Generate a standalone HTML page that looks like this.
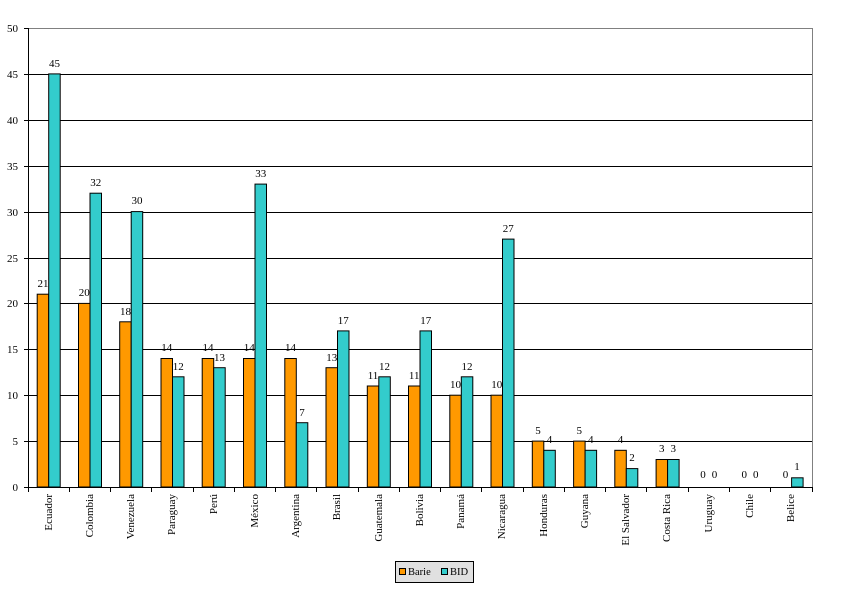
<!DOCTYPE html>
<html><head><meta charset="utf-8"><style>body{margin:0;background:#fff}svg{display:block}text{font-family:"Liberation Serif",serif;font-size:11px;fill:#000}</style></head><body>
<svg width="843" height="591" xmlns="http://www.w3.org/2000/svg">
<g stroke="#000" stroke-width="1">
<line x1="28" y1="28.5" x2="812" y2="28.5" stroke="#808080"/>
<line x1="812.5" y1="28" x2="812.5" y2="487" stroke="#808080"/>
<line x1="24" y1="74.5" x2="812" y2="74.5"/><line x1="24" y1="120.5" x2="812" y2="120.5"/>
<line x1="24" y1="166.5" x2="812" y2="166.5"/><line x1="24" y1="212.5" x2="812" y2="212.5"/>
<line x1="24" y1="258.5" x2="812" y2="258.5"/><line x1="24" y1="303.5" x2="812" y2="303.5"/>
<line x1="24" y1="349.5" x2="812" y2="349.5"/><line x1="24" y1="395.5" x2="812" y2="395.5"/>
<line x1="24" y1="441.5" x2="812" y2="441.5"/><line x1="24" y1="28.5" x2="28" y2="28.5"/>
<line x1="24" y1="487.5" x2="812" y2="487.5"/>
<line x1="28.5" y1="28" x2="28.5" y2="487"/>
</g>
<g stroke="#000">
<path d="M28.5 487v5M69.5 487v5M110.5 487v5M151.5 487v5M193.5 487v5M234.5 487v5M275.5 487v5M316.5 487v5M358.5 487v5M399.5 487v5M440.5 487v5M481.5 487v5M523.5 487v5M564.5 487v5M605.5 487v5M646.5 487v5M688.5 487v5M729.5 487v5M770.5 487v5M812.5 487v5"/>
</g>
<g text-anchor="end">
<text x="18" y="32">50</text><text x="18" y="78">45</text><text x="18" y="124">40</text><text x="18" y="170">35</text><text x="18" y="216">30</text><text x="18" y="262">25</text><text x="18" y="307">20</text><text x="18" y="353">15</text><text x="18" y="399">10</text><text x="18" y="445">5</text><text x="18" y="491">0</text>
</g>
<g stroke="#000" stroke-width="1">
<g fill="#ff9900">
<rect x="37.2" y="294.2" width="11.5" height="192.8"/>
<rect x="78.5" y="303.4" width="11.5" height="183.6"/>
<rect x="119.7" y="321.8" width="11.5" height="165.2"/>
<rect x="161" y="358.5" width="11.5" height="128.5"/>
<rect x="202.2" y="358.5" width="11.5" height="128.5"/>
<rect x="243.5" y="358.5" width="11.5" height="128.5"/>
<rect x="284.8" y="358.5" width="11.5" height="128.5"/>
<rect x="326" y="367.7" width="11.5" height="119.3"/>
<rect x="367.3" y="386" width="11.5" height="101"/>
<rect x="408.5" y="386" width="11.5" height="101"/>
<rect x="449.8" y="395.2" width="11.5" height="91.8"/>
<rect x="491" y="395.2" width="11.5" height="91.8"/>
<rect x="532.3" y="441.1" width="11.5" height="45.9"/>
<rect x="573.6" y="441.1" width="11.5" height="45.9"/>
<rect x="614.8" y="450.3" width="11.5" height="36.7"/>
<rect x="656.1" y="459.5" width="11.5" height="27.5"/>
</g>
<g fill="#33cccc">
<rect x="48.7" y="73.9" width="11.5" height="413.1"/>
<rect x="90" y="193.2" width="11.5" height="293.8"/>
<rect x="131.2" y="211.6" width="11.5" height="275.4"/>
<rect x="172.5" y="376.8" width="11.5" height="110.2"/>
<rect x="213.7" y="367.7" width="11.5" height="119.3"/>
<rect x="255" y="184.1" width="11.5" height="302.9"/>
<rect x="296.3" y="422.7" width="11.5" height="64.3"/>
<rect x="337.5" y="330.9" width="11.5" height="156.1"/>
<rect x="378.8" y="376.8" width="11.5" height="110.2"/>
<rect x="420" y="330.9" width="11.5" height="156.1"/>
<rect x="461.3" y="376.8" width="11.5" height="110.2"/>
<rect x="502.5" y="239.1" width="11.5" height="247.9"/>
<rect x="543.8" y="450.3" width="11.5" height="36.7"/>
<rect x="585.1" y="450.3" width="11.5" height="36.7"/>
<rect x="626.3" y="468.6" width="11.5" height="18.4"/>
<rect x="667.6" y="459.5" width="11.5" height="27.5"/>
<rect x="791.6" y="477.8" width="11.5" height="9.2"/>
</g>
</g>
<g text-anchor="middle">
<text x="43" y="287">21</text><text x="54.5" y="67">45</text>
<text x="84.2" y="296">20</text><text x="95.7" y="186">32</text>
<text x="125.5" y="315">18</text><text x="137" y="204">30</text>
<text x="166.7" y="351">14</text><text x="178.2" y="370">12</text>
<text x="208" y="351">14</text><text x="219.5" y="361">13</text>
<text x="249.2" y="351">14</text><text x="260.7" y="177">33</text>
<text x="290.5" y="351">14</text><text x="302" y="416">7</text>
<text x="331.7" y="361">13</text><text x="343.2" y="324">17</text>
<text x="373" y="379">11</text><text x="384.5" y="370">12</text>
<text x="414.2" y="379">11</text><text x="425.7" y="324">17</text>
<text x="455.5" y="388">10</text><text x="467" y="370">12</text>
<text x="496.7" y="388">10</text><text x="508.2" y="232">27</text>
<text x="538" y="434">5</text><text x="549.5" y="443">4</text>
<text x="579.2" y="434">5</text><text x="590.7" y="443">4</text>
<text x="620.5" y="443">4</text><text x="632" y="461">2</text>
<text x="661.7" y="452">3</text><text x="673.2" y="452">3</text>
<text x="703" y="478">0</text><text x="714.5" y="478">0</text>
<text x="744.2" y="478">0</text><text x="755.7" y="478">0</text>
<text x="785.5" y="478">0</text><text x="797" y="470">1</text>
</g>
<g text-anchor="end">
<text transform="translate(52,494) rotate(-90)">Ecuador</text>
<text transform="translate(93,494) rotate(-90)">Colombia</text>
<text transform="translate(134,494) rotate(-90)">Venezuela</text>
<text transform="translate(175,494) rotate(-90)">Paraguay</text>
<text transform="translate(217,494) rotate(-90)">Perú</text>
<text transform="translate(258,494) rotate(-90)">México</text>
<text transform="translate(299,494) rotate(-90)">Argentina</text>
<text transform="translate(340,494) rotate(-90)">Brasil</text>
<text transform="translate(382,494) rotate(-90)">Guatemala</text>
<text transform="translate(423,494) rotate(-90)">Bolivia</text>
<text transform="translate(464,494) rotate(-90)">Panamá</text>
<text transform="translate(505,494) rotate(-90)">Nicaragua</text>
<text transform="translate(547,494) rotate(-90)">Honduras</text>
<text transform="translate(588,494) rotate(-90)">Guyana</text>
<text transform="translate(629,494) rotate(-90)">El Salvador</text>
<text transform="translate(670,494) rotate(-90)">Costa Rica</text>
<text transform="translate(712,494) rotate(-90)">Uruguay</text>
<text transform="translate(753,494) rotate(-90)">Chile</text>
<text transform="translate(794,494) rotate(-90)">Belice</text>
</g>
<rect x="395.5" y="561.5" width="78" height="21" fill="#e0e0e0" stroke="#000"/>
<rect x="399.5" y="568.5" width="6" height="6" fill="#ff9900" stroke="#000"/>
<text x="408" y="575" style="font-size:10.5px">Barie</text>
<rect x="441.5" y="568.5" width="6" height="6" fill="#33cccc" stroke="#000"/>
<text x="450" y="575" style="font-size:10.5px">BID</text>
</svg>
</body></html>
